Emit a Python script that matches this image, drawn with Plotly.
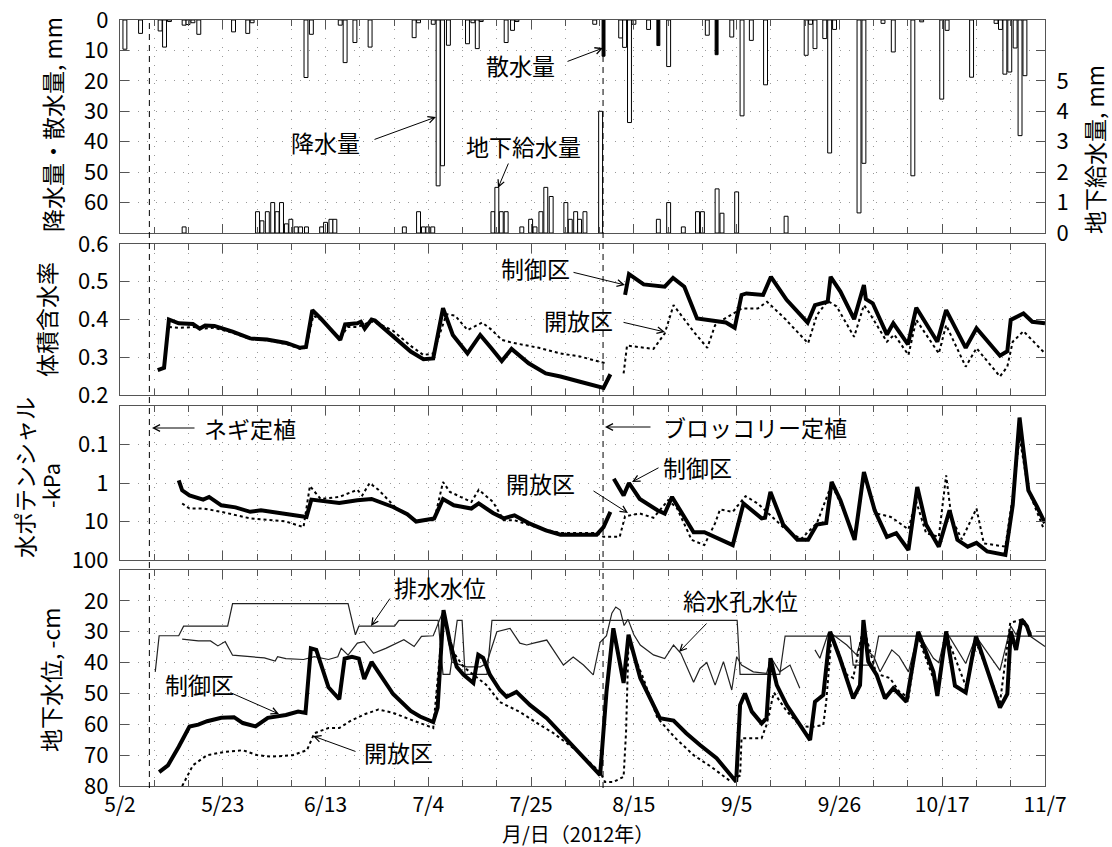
import plotly.graph_objects as go

# ---------------- data (x = days after 5/2/2012) ----------------
tick_days = [0, 21, 42, 63, 84, 105, 126, 147, 168, 189]
tick_labels = ["5/2", "5/23", "6/13", "7/4", "7/25", "8/15", "9/5", "9/26", "10/17", "11/7"]

# rainfall, mm (hanging bars, left axis)
rain_day = [1.0, 4.2, 8.2, 9.1, 10.1, 13.1, 13.9, 14.9, 16.1, 23.2, 26.1, 27.0, 38.0, 39.1, 45.0, 46.0,
            48.0, 51.1, 60.1, 61.0, 64.0, 65.0, 65.9, 67.1, 71.0, 72.1, 73.0, 73.8, 78.9, 80.2, 81.1,
            97.0, 102.3, 103.1, 104.1, 105.0, 108.0, 112.1, 120.0, 125.0, 127.1, 129.0, 131.9, 140.2,
            141.1, 142.0, 144.0, 145.0, 146.0, 151.0, 152.0, 155.9, 158.0, 162.0, 163.8, 167.9, 169.0,
            174.0, 179.0, 179.9, 180.8, 181.8, 182.9, 183.9, 184.9]
rain_mm = [9.6, 4.4, 3.6, 8.9, 0.5, 1.7, 1.5, 0.9, 4.7, 3.9, 4.4, 0.9, 18.9, 4.7, 1.7, 14.0,
           7.4, 8.9, 5.8, 0.9, 1.4, 54.5, 47.9, 8.3, 7.8, 0.9, 9.4, 0.5, 7.4, 3.4, 0.5,
           1.4, 5.9, 9.0, 33.7, 1.4, 3.1, 15.3, 5.0, 5.6, 31.5, 6.7, 21.3, 11.6,
           1.4, 9.4, 6.1, 43.7, 3.1, 63.4, 47.1, 1.1, 10.5, 51.2, 0.6, 26.0, 3.4,
           18.8, 1.1, 3.1, 17.8, 17.1, 9.2, 38.0, 18.3]

# sprinkler irrigation, mm (solid bars, left axis)
sprink_day = [98.8, 110.0, 121.9]
sprink_mm = [11.9, 8.4, 11.4]

# subsurface irrigation, mm (bars from bottom, right axis)
sub_day = [13.1, 28.1, 29.0, 30.1, 31.2, 32.1, 33.0, 34.0, 34.9, 36.0, 36.9, 38.1, 41.2, 42.0, 43.1, 43.9,
           58.1, 61.0, 62.0, 62.9, 63.9, 76.2, 77.0, 77.9, 78.9, 82.1, 83.9, 84.8, 86.0, 87.0, 88.1,
           91.1, 92.0, 93.1, 93.9, 95.0, 98.2, 110.0, 112.1, 115.1, 118.0, 119.0, 122.0, 123.0, 126.0, 136.1]
sub_mm = [0.2, 0.7, 0.4, 0.7, 1.0, 0.7, 1.0, 0.3, 0.45, 0.2, 0.2, 0.2, 0.2, 0.35, 0.45, 0.45,
          0.2, 0.7, 0.2, 0.2, 0.2, 0.7, 1.5, 0.7, 0.7, 0.2, 0.45, 0.2, 0.7, 1.5, 1.2,
          1.0, 0.45, 0.7, 0.45, 0.7, 4.0, 0.45, 1.0, 0.2, 0.7, 0.7, 1.45, 0.65, 1.35, 0.55]

# volumetric water content
vwc_ctrl_day = [7.7, 9, 10, 12, 14.9, 16.3, 17.4, 19.3, 23, 26.6, 30, 34, 36.8, 38, 39.3, 41, 45, 46, 48.5,
                49.2, 50, 51.4, 52.1, 55.8, 59.4, 62, 64, 66, 68, 71, 73.6, 75.8, 78, 80, 83.5, 87, 90, 94,
                98.8, 100.2, None, 103.2, 104, 107, 111.3, 113, 115.3, 117.9, 120, 123.8, 125.6, 127, 128,
                131.4, 133, 136.2, 140.5, 142, 144.6, 145.2, 147.2, 150, 152, 152.4, 153.8, 156.7, 158, 161,
                162.7, 167, 168.8, 172.8, 175, 179.8, 181.3, 182, 184.6, 186.4, 189]
vwc_ctrl = [0.266, 0.272, 0.40, 0.39, 0.388, 0.376, 0.384, 0.383, 0.368, 0.35, 0.347, 0.338, 0.325, 0.327,
            0.425, 0.403, 0.346, 0.387, 0.39, 0.394, 0.376, 0.40, 0.397, 0.354, 0.315, 0.295, 0.297, 0.43,
            0.359, 0.31, 0.359, 0.325, 0.29, 0.322, 0.284, 0.257, 0.249, 0.235, 0.219, 0.255, None, 0.465,
            0.52, 0.493, 0.487, 0.51, 0.487, 0.403, 0.399, 0.392, 0.378, 0.465, 0.469, 0.465, 0.513, 0.452,
            0.392, 0.438, 0.447, 0.513, 0.474, 0.401, 0.491, 0.454, 0.443, 0.36, 0.39, 0.334, 0.431, 0.341,
            0.425, 0.325, 0.377, 0.304, 0.316, 0.399, 0.416, 0.394, 0.39]
vwc_open_day = [10, 12, 15, 17.4, 19.3, 23, 26.6, 30, 34, 36.8, 38, 39.5, 41, 45, 46.5, 48.5, 51.4, 53.5,
                55.8, 59.4, 62, 64, 66.7, 68.5, 71, 74, 76, 78, 80, 85.6, 90, 94, 99.2, None, 102.9, 103.6,
                109, 111.3, 113.1, 114.6, 117.2, 120, 121.6, 122.5, 127, 130.3, 132.2, 135.5, 140.6, 142.4,
                144.6, 146.4, 150, 152, 153, 156.7, 158.2, 161.1, 162.7, 167.3, 168.8, 172.8, 175, 179.8,
                181.3, 182.4, 184.6, 189]
vwc_open = [0.38, 0.378, 0.38, 0.376, 0.378, 0.365, 0.348, 0.345, 0.335, 0.322, 0.325, 0.41, 0.40, 0.35,
            0.38, 0.38, 0.395, 0.385, 0.37, 0.33, 0.306, 0.31, 0.414, 0.41, 0.372, 0.392, 0.372, 0.346,
            0.339, 0.325, 0.31, 0.302, 0.284, None, 0.257, 0.331, 0.322, 0.363, 0.438, 0.412, 0.368, 0.325,
            0.385, 0.394, 0.429, 0.429, 0.447, 0.407, 0.337, 0.412, 0.449, 0.435, 0.354, 0.438, 0.42, 0.341,
            0.36, 0.306, 0.399, 0.31, 0.385, 0.275, 0.324, 0.249, 0.275, 0.341, 0.369, 0.31]

# water potential, -kPa
wp_ctrl_day = [12, 12.7, 14.2, 17, 18.2, 20.7, 23.6, 26.6, 28.8, 33.9, 38.1, 39.1, 44.8, 48.5, 51.4, 55.8,
               58.7, 60.5, 62.5, 64.2, 66, 68.2, 71.8, 73.3, 76.2, 78.4, 80.6, 83.5, 87, 90, 94, 97.4, 98.8,
               100.2, None, 100.9, 102.9, 104, 106.2, 109.8, 111.3, 112.8, 115.7, 117.2, 119.4, 121.6, 125.2,
               127.4, 129.6, 131.1, 131.8, 132.9, 135.5, 138.4, 140.6, 142.4, 144.3, 145.4, 147.2, 150.1,
               152, 154.2, 156.7, 158.6, 161.1, 162.9, 164.7, 167.3, 169.5, 171.1, 173.2, 175, 177.2, 180.9,
               182.4, 183.8, 184.4, 185.6, 187.4, 189]
wp_ctrl = [0.85, 1.55, 2.1, 2.7, 2.3, 3.8, 4.3, 5.6, 5.1, 6.5, 7.6, 2.7, 3.3, 2.8, 2.6, 4.2, 6.5, 10, 9, 8.3,
           2.6, 3.8, 4.6, 3.4, 6, 8.3, 6.9, 11, 17, 22, 22, 22, 14, 5.6, None, 0.78, 2.1, 1.0, 2.6, 5.1, 6.2,
           2.3, 10, 19, 19, 25, 41, 3.4, 5.6, 8.3, 8.0, 1.7, 12, 30, 30, 12, 11, 0.94, 2.8, 30, 0.52, 5.1,
           25, 20, 55, 1.27, 12, 45, 5.1, 30, 45, 36, 60, 74, 3.8, 0.02, 0.087, 1.55, 4.2, 11]
wp_open_day = [12.7, 14.2, 17, 20.7, 26.6, 33.9, 37.5, 38.8, 41, 44.8, 48.5, 49.5, 51, 52.8, 56.5, 60.5,
               64.2, 66, 67.4, 71.8, 73.3, 76.2, 78.4, 80.6, 85, 90, 97.4, 98.8, 102.1, 103.2, 106.2, 109,
               112, 113.8, 116.8, 119.4, 121.6, 122.6, 125.2, 127.8, 130.3, 135.5, 139.1, 142.4, 145.4,
               147.9, 150.1, 152, 154.6, 157.5, 161.1, 162.6, 164.7, 167.3, 168.8, 169.9, 172, 175, 176.5,
               180.9, 182.4, 183.8, 185.6, 188.6, 189]
wp_open = [3.4, 4.6, 4.6, 5.6, 8.3, 10, 14, 1.2, 2.6, 2.3, 1.5, 2.1, 1.0, 1.5, 4.6, 9.3, 9.3, 0.94, 1.7,
           3.1, 1.5, 3.1, 9.3, 9.3, 14, 20, 20, 25, 25, 7.3, 6.2, 8, 2.8, 4.5, 30, 41, 11, 4.9, 5.6, 2.2,
           3.4, 14, 29, 11, 1.08, 5.1, 25, 0.69, 6.2, 7.6, 16, 2.8, 20, 25, 0.63, 8.3, 29, 4.6, 37, 45, 2.3,
           0.065, 1.55, 14, 15]

# groundwater levels, -cm
drain_day = [7.2, 8, 12, 13, 22, 23, 46.6, 48.1, 48.8, 56.1, 57, 65, 66, 67.4, 68.9, 69.9, 70.5, 75, 76,
             126.1, 126.7, 134.8, 135.9, 149.2, 149.8, 153.9, 155, 189]
drain_lvl = [43, 31.3, 31.3, 28.2, 28.2, 20.9, 20.9, 31, 28.2, 28.2, 26.3, 26.3, 43.8, 43.8, 26.3, 26.3,
             43.8, 43.8, 26.3, 26.3, 43.8, 43.8, 31.4, 31.4, 40.8, 40.8, 31.4, 31.4]
supply_day = [12.7, 16, 18.5, 20, 21.5, 23, 26.6, 29.5, 31.7, 32.2, 33.9, 37.5, 39.7, 42.6, 44.5, 45.2,
              46.6, 48.5, 49.9, 51.8, 54.3, 58, 60.1, 61.6, 64.0, 66.1, 67.8, 70.8, 73.6, 74.9, 77, 79.7,
              81.7, 83.1, 84.5, 87.2, 88.5, 90.6, 92.6, 94.7, 96.7, 98.1, 99.4, 100.5, 101.3, 102.2, 103,
              103.8, 105, 106.3, 109, 111.3, 113.1, 114.6, 117.2, 118.5, 119.9, 121.6, 123.3, 125, 126,
              127, 129.4, 132.1, 133.1, 134.8, 136.9, 138.9, None, 142, 143, 144.7, 145.7, 148.5, 150.5,
              151.9, 152.6, 154, 155.3, 157.7, 159.2, 161.1, 163.1, 166.2, 167.3, 168.8, 172.8, 174.9,
              179.8, 182, 183.1, 184.4, 186, 189]
supply_lvl = [32.4, 33, 33, 34.6, 33.2, 37.6, 38.1, 38.5, 39.5, 38.1, 38.7, 39, 38.1, 39, 38.1, 35.4, 37.6,
              33.7, 33.2, 37, 35.4, 32.6, 34.8, 31.5, 31.3, 23, 39.8, 41.4, 41.4, 40.3, 30, 28.9,
              33.7, 34.3, 33.7, 32.7, 35.8, 40.8, 38.2, 40.8, 44, 33.4, 31.3, 24, 22, 23, 28,
              26, 31, 34.3, 37.5, 38.7, 34.3, 37, 46.4, 41.9, 40, 47.3, 39.7, 48.9, 38.1,
              40.8, 43, 43.5, 38.6, 43, 40.8, 48.3, None, 35.9, 38.6, 30.5, 31, 34.3, 37.5,
              30, 36, 38, 43, 35.9, 38, 43, 30.5, 38.6, 40, 29.9, 40.3, 31.5,
              42.5, 28.2, 31, 25.8, 31.5, 34.8]
gw_ctrl_day = [8, 9.8, 12, 14.2, 16, 17.8, 20.7, 23.3, 25.1, 27.7, 30.2, 33.9, 36.4, 37.9, 39, 40.1, 42.6,
               44.8, 45.9, 47.4, 48.8, 49.9, 51.4, 55.8, 59.4, 61.3, 64.0, 64.9, 66.1, 67.4, 68.8, 70.2,
               72.2, 73.2, 74.2, 75.6, 77.6, 79, 81, 83.8, 87.2, 89.9, 92.6, 95.4, 98.1, 99.4, 100.8,
               102.9, 103.9, 106.3, 110.3, 113.1, 115.7, 118.5, 121.9, 125.9, 126.7, 127.7, 129.1, 131.1,
               132.1, 132.9, 134.2, 136.2, 138.9, 141, 142, 143.7, 145.1, 147.1, 149.8, 151.2, 151.9, 152.9,
               154.6, 156.3, 158, 160.7, 163.1, 166.2, 167, 168.8, 170.6, 172.8, 174.9, 179.8, 181.3, 182,
               183.1, 184.2, 185.3, 186]
gw_ctrl = [75.5, 73.3, 67.3, 60.7, 60.1, 59, 57.9, 57.7, 59.6, 60.7, 57.9, 57, 55.9, 56.3, 35.4, 35.9, 48,
           51.9, 38.7, 38.1, 38.7, 45.3, 39.8, 50.2, 55.7, 57.5, 59.3, 54.6, 23, 33.4, 41.4, 44,
           46.6, 37.5, 38.5, 44, 48.9, 51.1, 49.5, 53.8, 58, 62.5, 67.4, 71.6, 76.5, 49.5, 28.9,
           46.6, 31, 45, 58, 58.8, 62.9, 66.7, 71, 78.6, 53.7, 50, 55.9, 59.7,
           58, 38.6, 47.3, 53.7, 60.2, 65.1, 52.7, 50.5, 30, 38.6, 51.6, 47.3, 26.2, 39.7,
           44, 51.6, 48.3, 52.7, 30, 43, 50.8, 29.9, 47.5, 49.7, 31.5, 54.6, 50.2, 29.9,
           35.9, 26, 28.2, 31.5]
gw_open_day = [12.7, 14.9, 17.8, 21.5, 25.1, 28, 30.9, 35.3, 38.2, 39.7, 42.6, 44.8, 47, 49.9, 52.8, 55.8,
               59.4, 64.0, 66.1, 68.1, 70.2, 72.2, 74.9, 77.6, 81.7, 85.8, 88.5, 93.3, 98.1, 99.1, 100.8,
               102.9, 103.4, 103.9, 106.9, 109.8, 113.5, 117.2, 120.8, 124.5, 126.7, 127, 131.1, 132.1,
               133.6, 136.2, 139.1, 141.7, 143.7, 144.3, 145.4, 148.5, 149.8, 151.9, 154.5, 157.3, 159.2,
               161.1, 163, 167, 168.8, 172.8, 175, 179.8, 181.9, 184.6, 186.4]
gw_open = [80, 73.3, 70, 68.9, 68.4, 70, 70.5, 70, 68.4, 62.9, 61.2, 61.2, 59, 56.8, 55.2, 56.3,
           58.5, 61.2, 24.5, 36.6, 41.4, 44, 47.3, 52.8, 56, 60.2, 62.8, 68.5, 75.5, 78.7, 78.7,
           77, 62.5, 33.4, 45, 57.9, 64.5, 70, 73.8, 78.2, 76.6, 64.5, 64.5, 60.2,
           49.7, 55.7, 60.7, 60.8, 60.2, 52.7, 31, 44, 45, 28.4, 43.6, 45, 49.4,
           51.3, 31.5, 48.6, 31, 47.5, 33.7, 53, 27.1, 26, 31.5]

planting_days = [6.0, 98.7]   # ネギ定植, ブロッコリー定植

# ---------------- layout helpers ----------------
W, H = 1112, 847
def fx(p): return p / W
def fy(p): return 1 - p / H

XL, XR = 120, 1045
P = {1: (20, 233), 2: (244, 395), 3: (406, 560), 4: (570, 786)}
FONT = "Noto Sans CJK JP"
TICKFONT = dict(family=FONT, size=22, color="black")
LINEC = "#555"
GRID = dict(showgrid=True, gridcolor="#999", griddash="1px,8px", gridwidth=1)

def xaxis(labels=False):
    d = dict(domain=[fx(XL), fx(XR)], range=[0, 189], tickmode="array", tickvals=tick_days,
             ticks="inside", ticklen=9, tickcolor=LINEC, showline=True, linecolor=LINEC, linewidth=1.3,
             mirror="ticks", zeroline=False, showticklabels=labels, tickfont=TICKFONT, automargin=False,
             minor=dict(tickmode="linear", tick0=0, dtick=7, ticks="inside", ticklen=6, tickcolor=LINEC,
                        showgrid=True, gridcolor="#999", griddash="1px,8px"),
             **GRID)
    if labels:
        d["ticktext"] = tick_labels
        d["ticklabelstandoff"] = 0
        d["tickfont"] = dict(family=FONT, size=21, color="black")
    return d

def yaxis(k, **kw):
    d = dict(domain=[fy(P[k][1]), fy(P[k][0])], ticks="inside", ticklen=9, tickcolor=LINEC,
             showline=True, linecolor=LINEC, linewidth=1.3, mirror="ticks", zeroline=False,
             tickfont=TICKFONT, ticklabelstandoff=6, automargin=False, **GRID)
    d.update(kw)
    return d

fig = go.Figure()

# panel 1
fig.add_trace(go.Bar(x=rain_day, y=rain_mm, base=0, width=0.8, xaxis="x", yaxis="y",
                     marker=dict(color="white", line=dict(color="black", width=1))))
fig.add_trace(go.Bar(x=sprink_day, y=sprink_mm, base=0, width=0.6, xaxis="x", yaxis="y",
                     marker=dict(color="black", line=dict(color="black", width=1))))
fig.add_trace(go.Bar(x=sub_day, y=sub_mm, base=0, width=0.8, xaxis="x", yaxis="y5",
                     marker=dict(color="white", line=dict(color="black", width=1))))

CTRL = dict(color="black", width=4)
OPEN = dict(color="black", width=2, dash="3px,3px")
THIN = dict(color="#222", width=1.2)

# panel 2
fig.add_trace(go.Scatter(x=vwc_open_day, y=vwc_open, mode="lines", line=OPEN, xaxis="x2", yaxis="y2"))
fig.add_trace(go.Scatter(x=vwc_ctrl_day, y=vwc_ctrl, mode="lines", line=CTRL, xaxis="x2", yaxis="y2"))
# panel 3
fig.add_trace(go.Scatter(x=wp_open_day, y=wp_open, mode="lines", line=OPEN, xaxis="x3", yaxis="y3"))
fig.add_trace(go.Scatter(x=wp_ctrl_day, y=wp_ctrl, mode="lines", line=CTRL, xaxis="x3", yaxis="y3"))
# panel 4
fig.add_trace(go.Scatter(x=drain_day, y=drain_lvl, mode="lines", line=THIN, xaxis="x4", yaxis="y4"))
fig.add_trace(go.Scatter(x=supply_day, y=supply_lvl, mode="lines", line=THIN, xaxis="x4", yaxis="y4"))
fig.add_trace(go.Scatter(x=gw_open_day, y=gw_open, mode="lines", line=OPEN, xaxis="x4", yaxis="y4"))
fig.add_trace(go.Scatter(x=gw_ctrl_day, y=gw_ctrl, mode="lines", line=CTRL, xaxis="x4", yaxis="y4"))

shapes = []
for d in planting_days:
    shapes.append(dict(type="line", xref="x4", yref="paper", x0=d, x1=d, y0=fy(788), y1=fy(20),
                       line=dict(color="black", width=1, dash="6px,5px")))

ann = []
def text(t, x, y, size=23, angle=0):
    ann.append(dict(text=t, x=fx(x), y=fy(y), xref="paper", yref="paper", showarrow=False,
                    textangle=angle, font=dict(family=FONT, size=size, color="black"),
                    xanchor="center", yanchor="middle"))
def arrow(hx, hy, tx, ty):
    ann.append(dict(text="", x=fx(hx), y=fy(hy), xref="paper", yref="paper", showarrow=True,
                    ax=tx - hx, ay=ty - hy, arrowhead=5, arrowsize=1.3, arrowwidth=1,
                    arrowcolor="black"))

text("降水量", 325, 142); arrow(436, 117, 373, 140)
text("散水量", 520, 65); arrow(603, 48, 566, 62)
text("地下給水量", 523, 146); arrow(498, 188, 509, 162)
text("制御区", 535, 268); arrow(625, 285, 572, 272)
text("開放区", 578, 320); arrow(665, 332, 622, 322)
text("ネギ定植", 250, 428); arrow(152, 428, 196, 428)
text("ブロッコリー定植", 755, 427); arrow(605, 427, 652, 427)
text("開放区", 540, 483); arrow(628, 513, 592, 490)
text("制御区", 697, 467); arrow(632, 482, 660, 467)
text("排水水位", 440, 587); arrow(371, 626, 391, 597)
text("給水孔水位", 740, 600); arrow(679, 652, 708, 622)
text("制御区", 199, 684); arrow(279, 714, 229, 692)
text("開放区", 398, 752); arrow(313, 736, 357, 752)

# axis titles
text("降水量・散水量, mm", 52, 125, size=23, angle=-90)
text("体積含水率", 46, 320, size=23, angle=-90)
text("水ポテンシャル", 24, 478, size=23, angle=-90)
text("-kPa", 50, 486, size=22, angle=-90)
text("地下水位, -cm", 50, 680, size=23, angle=-90)
text("地下給水量, mm", 1094, 150, size=23, angle=-90)
text("月/日（2012年）", 578, 833, size=20)

fig.update_layout(
    template="none",
    width=W, height=H, margin=dict(l=0, r=0, t=0, b=0, autoexpand=False),
    paper_bgcolor="white", plot_bgcolor="white", showlegend=False, barmode="overlay",
    xaxis=xaxis(), xaxis2=dict(xaxis(), anchor="y2"), xaxis3=dict(xaxis(), anchor="y3"),
    xaxis4=dict(xaxis(True), anchor="y4"),
    yaxis=yaxis(1, range=[70, 0], tickmode="array", tickvals=[0, 10, 20, 30, 40, 50, 60], mirror=True,
                anchor="x"),
    yaxis5=dict(overlaying="y", side="right", anchor="x", range=[0, 7], tickmode="array",
                tickvals=[0, 1, 2, 3, 4, 5, 6], ticktext=["0", "1", "2", "3", "4", "5", ""],
                ticks="inside", ticklen=9, tickcolor=LINEC, showline=True, linecolor=LINEC,
                linewidth=1.3, zeroline=False, showgrid=False, tickfont=TICKFONT, ticklabelstandoff=6,
                automargin=False),
    yaxis2=yaxis(2, range=[0.2, 0.6], tickmode="array", tickvals=[0.2, 0.3, 0.4, 0.5, 0.6],
                 ticktext=["0.2", "0.3", "0.4", "0.5", "0.6"], anchor="x2"),
    yaxis3=yaxis(3, type="log", range=[2, -2], tickmode="array", tickvals=[0.1, 1, 10, 100],
                 ticktext=["0.1", "1", "10", "100"], anchor="x3"),
    yaxis4=yaxis(4, range=[80, 10], tickmode="array", tickvals=[20, 30, 40, 50, 60, 70, 80], anchor="x4"),
    shapes=shapes, annotations=ann,
)

fig.write_html("out.html")
